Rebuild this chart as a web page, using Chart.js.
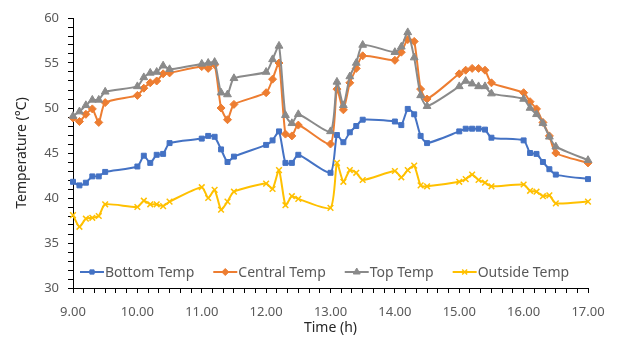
<!DOCTYPE html>
<html>
<head>
<meta charset="utf-8">
<script src="https://cdn.jsdelivr.net/npm/chart.js@4.4.0/dist/chart.umd.min.js"></script>
<style>
  html, body { margin: 0; padding: 0; background: #fff; }
  #wrap { width: 619px; height: 340px; }
</style>
</head>
<body>
<div id="wrap"><canvas id="chart1" width="619" height="340"></canvas></div>
<script>
// time of reading (h) and the four temperature series (°C)
var times = [9.0, 9.1, 9.2, 9.3, 9.4, 9.5,
  10.0, 10.1, 10.2, 10.3, 10.4, 10.5,
  11.0, 11.1, 11.2, 11.3, 11.4, 11.5,
  12.0, 12.1, 12.2, 12.3, 12.4, 12.5,
  13.0, 13.1, 13.2, 13.3, 13.4, 13.5,
  14.0, 14.1, 14.2, 14.3, 14.4, 14.5,
  15.0, 15.1, 15.2, 15.3, 15.4, 15.5,
  16.0, 16.1, 16.2, 16.3, 16.4, 16.5,
  17.0];

var bottomTemp = [41.8, 41.4, 41.7, 42.4, 42.4, 42.9,
  43.5, 44.7, 43.9, 44.8, 44.9, 46.1,
  46.6, 46.9, 46.8, 45.4, 44.0, 44.6,
  45.9, 46.4, 47.4, 43.9, 43.9, 44.8,
  42.8, 47.0, 46.2, 47.3, 48.0, 48.7,
  48.5, 48.1, 49.9, 49.3, 46.9, 46.1,
  47.4, 47.7, 47.7, 47.7, 47.6, 46.7,
  46.4, 45.0, 44.9, 44.0, 43.2, 42.6,
  42.1];

var centralTemp = [48.9, 48.5, 49.3, 49.9, 48.4, 50.6,
  51.4, 52.2, 52.8, 53.0, 53.8, 53.9,
  54.6, 54.4, 54.8, 50.0, 48.7, 50.4,
  51.7, 53.2, 55.0, 47.1, 46.9, 48.1,
  46.0, 52.1, 49.8, 52.8, 54.4, 55.8,
  55.3, 56.2, 57.6, 57.4, 52.1, 51.0,
  53.8, 54.2, 54.4, 54.4, 54.2, 52.8,
  51.7, 50.7, 49.9, 48.4, 46.9, 45.0,
  43.9];

var topTemp = [49.1, 49.6, 50.3, 50.9, 50.9, 51.8,
  52.4, 53.4, 53.9, 54.0, 54.7, 54.3,
  54.9, 55.0, 55.1, 51.7, 51.5, 53.3,
  54.0, 55.4, 56.9, 49.2, 48.3, 49.3,
  47.4, 52.9, 50.3, 53.5, 55.0, 57.0,
  56.2, 56.8, 58.4, 55.6, 51.4, 50.2,
  52.4, 53.0, 52.7, 52.4, 52.4, 51.6,
  51.0, 50.0, 49.3, 48.3, 46.8, 45.7,
  44.2];

var outsideTemp = [38.1, 36.8, 37.7, 37.8, 38.0, 39.3,
  39.0, 39.7, 39.3, 39.3, 39.1, 39.6,
  41.2, 40.0, 40.9, 38.7, 39.6, 40.7,
  41.6, 41.0, 43.1, 39.2, 40.2, 39.9,
  38.9, 43.9, 41.8, 43.1, 42.8, 42.0,
  43.0, 42.3, 43.1, 43.6, 41.4, 41.3,
  41.8, 42.1, 42.6, 42.0, 41.7, 41.3,
  41.5, 40.8, 40.7, 40.2, 40.3, 39.4,
  39.6];

var seriesNames = ['Bottom Temp', 'Central Temp', 'Top Temp', 'Outside Temp'];

var xTickValues = [9, 10, 11, 12, 13, 14, 15, 16, 17];
var xTickLabels = ['9.00', '10.00', '11.00', '12.00', '13.00', '14.00', '15.00', '16.00', '17.00'];
var yTickValues = [30, 35, 40, 45, 50, 55, 60];
var yTickLabels = ['30', '35', '40', '45', '50', '55', '60'];

var colors = ['#4472C4', '#ED7D31', '#8A8A8A', '#FFC000'];
var styles = ['rect', 'rectRot', 'triangle', 'crossRot'];
var radii = [3.5, 4, 4.5, 4];

function pts(vals) {
  return times.map(function (t, i) { return { x: t, y: vals[i] }; });
}

function pickLabel(values, labels, v) {
  for (var i = 0; i < values.length; i++) {
    if (Math.abs(values[i] - v) < 1e-6) return labels[i];
  }
  return '';
}

var allSeries = [bottomTemp, centralTemp, topTemp, outsideTemp];
var datasets = allSeries.map(function (vals, i) {
  return {
    label: seriesNames[i],
    data: pts(vals),
    borderColor: colors[i],
    backgroundColor: colors[i],
    pointBackgroundColor: colors[i],
    pointBorderColor: colors[i],
    pointStyle: styles[i],
    pointRadius: radii[i],
    pointBorderWidth: i === 3 ? 1.5 : 1,
    borderWidth: 2,
    tension: 0.2,
    clip: false,
    order: 4 - i
  };
});

// legend drawn inside the plot area, line + marker like the spreadsheet one
var insideLegend = {
  id: 'insideLegend',
  afterDatasetsDraw: function (chart) {
    var ctx = chart.ctx;
    var area = chart.chartArea;
    var y = area.bottom - 16;
    var x = area.left + 7;
    ctx.save();
    ctx.font = '14px "Noto Sans"';
    ctx.textBaseline = 'middle';
    ctx.textAlign = 'left';
    seriesNames.forEach(function (name, i) {
      ctx.strokeStyle = colors[i];
      ctx.fillStyle = colors[i];
      ctx.lineWidth = 2;
      ctx.beginPath();
      ctx.moveTo(x, y);
      ctx.lineTo(x + 24, y);
      ctx.stroke();
      ctx.lineWidth = i === 3 ? 1.5 : 1;
      Chart.helpers.drawPoint(ctx, { pointStyle: styles[i], radius: radii[i] - 0.5, rotation: 0, borderWidth: ctx.lineWidth }, x + 12, y);
      ctx.fillStyle = '#595959';
      ctx.fillText(name, x + 25, y + 1);
      x += 25 + ctx.measureText(name).width + 19;
    });
    ctx.restore();
  }
};

var ctx1 = document.getElementById('chart1').getContext('2d');
var chart1 = new Chart(ctx1, {
  type: 'line',
  data: { datasets: datasets },
  options: {
    responsive: false,
    animation: false,
    devicePixelRatio: 1,
    layout: { padding: { top: 18, right: 31, left: 0, bottom: 0 } },
    plugins: {
      legend: { display: false },
      tooltip: { enabled: false }
    },
    scales: {
      x: {
        type: 'linear',
        min: 9,
        max: 17,
        ticks: {
          stepSize: 1 / 6,
          autoSkip: false,
          maxRotation: 0,
          padding: 11,
          color: '#595959',
          font: { family: 'Noto Sans', size: 13 },
          callback: function (v) { return pickLabel(xTickValues, xTickLabels, v); }
        },
        grid: { drawOnChartArea: false, drawTicks: true, tickLength: 5, color: '#000', tickColor: '#000' },
        border: { display: true, color: '#000', width: 1 },
        title: {
          display: true,
          text: 'Time (h)',
          color: '#262626',
          font: { family: 'Noto Sans', size: 14 },
          padding: { top: 0, bottom: 4 }
        },
        afterFit: function (s) { s.height = 52; }
      },
      y: {
        type: 'linear',
        min: 30,
        max: 60,
        ticks: {
          stepSize: 1,
          autoSkip: false,
          padding: 9,
          color: '#595959',
          font: { family: 'Noto Sans', size: 13 },
          callback: function (v) { return pickLabel(yTickValues, yTickLabels, v); }
        },
        grid: { drawOnChartArea: false, drawTicks: true, tickLength: 5, color: '#000', tickColor: '#000' },
        border: { display: true, color: '#000', width: 1 },
        title: {
          display: true,
          text: 'Temperature (°C)',
          color: '#262626',
          font: { family: 'Noto Sans', size: 14 },
          padding: { top: 14, bottom: 0 }
        },
        afterFit: function (s) { s.width = 73; }
      }
    }
  },
  plugins: [insideLegend]
});
</script>
</body>
</html>
